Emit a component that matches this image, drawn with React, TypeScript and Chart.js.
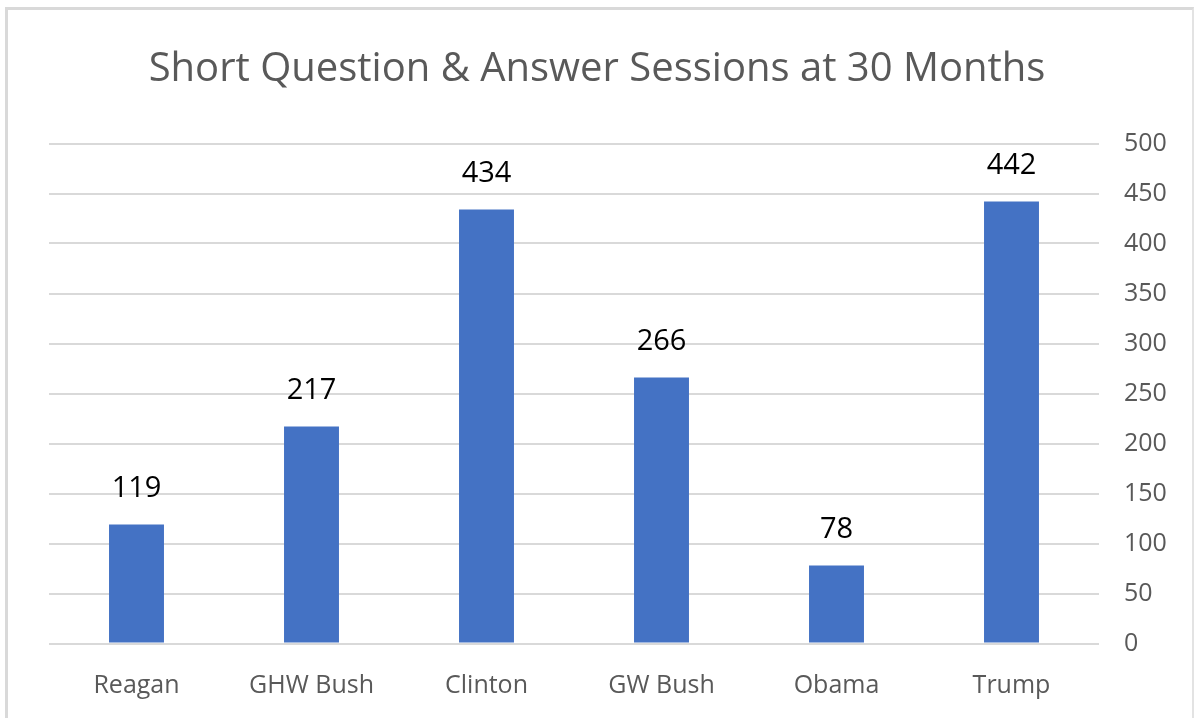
import React, { useEffect, useRef } from "react";
import { Chart, registerables } from "chart.js";

Chart.register(...registerables);

const presidents = ["Reagan", "GHW Bush", "Clinton", "GW Bush", "Obama", "Trump"];
const sessions = [119, 217, 434, 266, 78, 442];
const yTicks = [0, 50, 100, 150, 200, 250, 300, 350, 400, 450, 500];
const chartTitle = "Short Question & Answer Sessions at 30 Months";

const FONT = "'Open Sans', 'Noto Sans', sans-serif";
const GRAY = "#595959";

// Writes each bar's value above it
const valueLabels = {
  id: "valueLabels",
  afterDatasetsDraw(chart: any) {
    const ctx = chart.ctx;
    const meta = chart.getDatasetMeta(0);
    ctx.save();
    ctx.font = `29px ${FONT}`;
    ctx.fillStyle = "#000000";
    ctx.textAlign = "center";
    ctx.textBaseline = "middle";
    meta.data.forEach((bar: any, i: number) => {
      ctx.fillText(String(sessions[i]), bar.x, bar.y - 36);
    });
    ctx.restore();
  },
};

export default function App() {
  const canvasRef = useRef<HTMLCanvasElement>(null);

  useEffect(() => {
    if (!canvasRef.current) return;
    const chart = new Chart(canvasRef.current, {
      type: "bar",
      data: {
        labels: presidents,
        datasets: [
          {
            data: sessions,
            xAxisID: "x",
            yAxisID: "y",
            backgroundColor: "#4472C4",
            categoryPercentage: 1,
            barPercentage: 0.314,
          },
        ],
      },
      options: {
        animation: false,
        responsive: false,
        layout: { padding: 0 },
        plugins: {
          legend: { display: false },
          tooltip: { enabled: false },
          title: {
            display: true,
            text: chartTitle,
            color: GRAY,
            font: { family: FONT, size: 40, weight: "normal", lineHeight: 1.2 },
            padding: { top: 46, bottom: 49.5 },
          },
        },
        scales: {
          x: {
            grid: { display: false },
            border: { display: false },
            ticks: {
              color: GRAY,
              font: { family: FONT, size: 25 },
              padding: 19,
              maxRotation: 0,
            },
            afterFit: (s: any) => {
              s.height = 718 - 643.5;
            },
          },
          y: {
            position: "right",
            min: 0,
            max: 500,
            afterBuildTicks: (s: any) => {
              s.ticks = yTicks.map((v) => ({ value: v }));
            },
            grid: { color: "#d9d9d9", lineWidth: 2, drawTicks: false },
            border: { display: false },
            ticks: {
              color: GRAY,
              font: { family: FONT, size: 25 },
              padding: 25,
            },
            afterFit: (s: any) => {
              s.width = 1194 - 1099;
            },
          },
          // empty left gutter between the frame and the plot
          gutter: {
            type: "linear",
            axis: "y",
            position: "left",
            display: true,
            min: 0,
            max: 500,
            grid: { display: false, drawTicks: false },
            border: { display: false },
            ticks: { display: false },
            afterFit: (s: any) => {
              s.width = 49;
            },
          },
        },
      } as any,
      plugins: [valueLabels],
    });
    return () => chart.destroy();
  }, []);

  return (
    <div
      style={{
        position: "fixed",
        left: 0,
        top: 0,
        width: 1194,
        height: 718,
        background: "#ffffff",
        overflow: "hidden",
      }}
    >
      <canvas
        ref={canvasRef}
        width={1194}
        height={718}
        style={{ position: "absolute", left: 0, top: 0 }}
      />
      <div
        style={{
          position: "absolute",
          left: 5,
          top: 7,
          width: 1184,
          height: 760,
          borderLeft: "3px solid #d9d9d9",
          borderTop: "3px solid #d9d9d9",
          borderRight: "2px solid #e3e3e3",
          pointerEvents: "none",
        }}
      />
    </div>
  );
}
